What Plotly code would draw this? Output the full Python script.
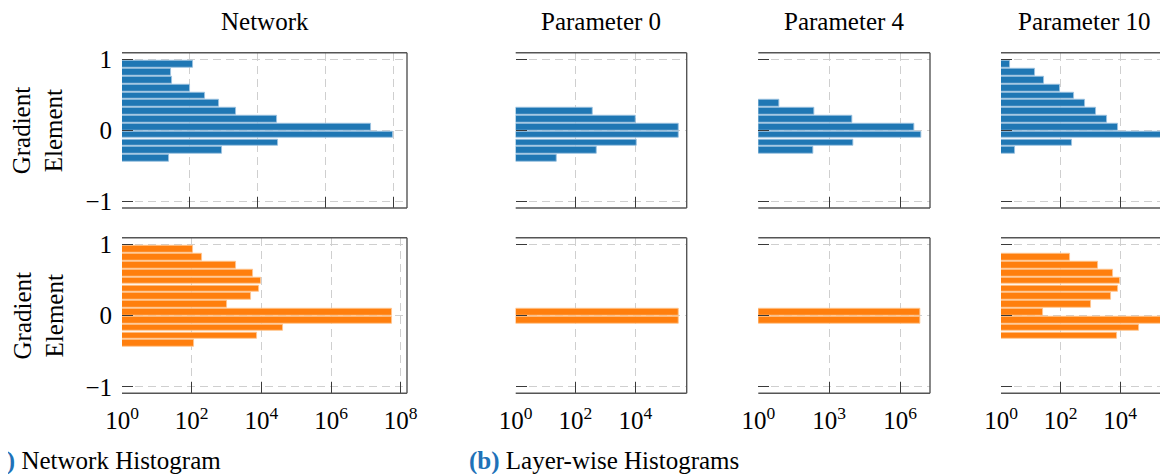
import plotly.graph_objects as go

# ---------------- data ----------------
bin_centers = [-0.392, -0.282, -0.172, -0.063, 0.047, 0.157, 0.267,
               0.377, 0.486, 0.596, 0.706, 0.816, 0.926]

# Network histogram (counts per bin, bottom to top)
net_top = [25, 900, 40000, 9.3e7, 2.19e7, 36600, 2330, 720, 284, 100, 30, 27, 123]
net_bot = [117, 7540, 41000, 5.6e7, 5.6e7, 1050, 5030, 8560, 10000, 5880, 1830, 203, 109]

# Layer-wise histograms
p0_top_bins = [-0.392, -0.282, -0.172, -0.063, 0.047, 0.157, 0.267]
p0_top = [24, 525, 11100, 283000, 275000, 10500, 365]
p0_bot_bins = [-0.063, 0.047]
p0_bot = [280000, 280000]

p4_top_bins = [-0.282, -0.172, -0.063, 0.047, 0.157, 0.267, 0.377]
p4_top = [221, 11000, 7.6e6, 3.95e6, 9300, 236, 7.8]
p4_bot_bins = [-0.063, 0.047]
p4_bot = [7.3e6, 7.3e6]

p10_top_bins = [-0.282, -0.172, -0.063, 0.047, 0.157, 0.267, 0.377,
                0.486, 0.596, 0.706, 0.816, 0.926]
p10_top = [3.0, 250, 2.87e5, 8550, 3740, 1520, 680, 277, 96, 27.9, 13.9, 1.95]
p10_bot_bins = [-0.282, -0.172, -0.063, 0.047, 0.157, 0.267, 0.377,
                0.486, 0.596, 0.706, 0.816]
p10_bot = [7600, 42000, 2.4e5, 25, 1050, 5000, 8300, 9970, 5660, 1810, 200]

titles = ["Network", "Parameter 0", "Parameter 4", "Parameter 10"]
y_ticks = [-1, 0, 1]
y_ticktext = ["\u22121", "0", "1"]
net_xticks = [1, 1e2, 1e4, 1e6, 1e8]
net_xtext = ["10<sup>0</sup>", "10<sup>2</sup>", "10<sup>4</sup>", "10<sup>6</sup>", "10<sup>8</sup>"]
p0_xticks = [1, 1e2, 1e4]
p0_xtext = ["10<sup>0</sup>", "10<sup>2</sup>", "10<sup>4</sup>"]
p4_xticks = [1, 1e3, 1e6]
p4_xtext = ["10<sup>0</sup>", "10<sup>3</sup>", "10<sup>6</sup>"]
ylabel = "Gradient<br>Element"
caption_a = "<b><span style='color:#1f72b8'>(a)</span></b> Network Histogram"
caption_b = "<b><span style='color:#1f72b8'>(b)</span></b> Layer-wise Histograms"

# ---------------- layout geometry (screen pixels) ----------------
PAGE_OFF = 8                       # default page margin around the plot div
W, H = 1168 - PAGE_OFF, 474 - PAGE_OFF
FONT = "Liberation Serif"
BLUE, ORANGE = "#1f77b4", "#ff7f0e"
cols_px = [(122, 407), (515.7, 686.7), (758.3, 930), (1001, 1168)]
rows_px = [(52.7, 208), (237.7, 393.3)]
xranges = [[(0, 8.39), (0, 8.18)], [(0, 5.72), (0, 5.72)],
           [(0, 7.27), (0, 7.27)], [(0, 5.61), (0, 5.61)]]
ticks = [(net_xticks, net_xtext), (p0_xticks, p0_xtext),
         (p4_xticks, p4_xtext), (p0_xticks, p0_xtext)]


def fx(px):
    return (px - PAGE_OFF) / W


def fy(py):
    return 1 - (py - PAGE_OFF) / H


series = [
    [(bin_centers, net_top), (bin_centers, net_bot)],
    [(p0_top_bins, p0_top), (p0_bot_bins, p0_bot)],
    [(p4_top_bins, p4_top), (p4_bot_bins, p4_bot)],
    [(p10_top_bins, p10_top), (p10_bot_bins, p10_bot)],
]

fig = go.Figure()
layout = dict(width=W, height=H, margin=dict(l=0, r=0, t=0, b=0, autoexpand=False),
              plot_bgcolor="white", paper_bgcolor="white",
              showlegend=False, bargap=0, font=dict(family=FONT, size=24, color="black"))
shapes = []
annotations = []

GRID = "#cfcfcf"
FRAME = "#555555"
TICKC = "#3a3a3a"

idx = 0
for c, (x0, x1) in enumerate(cols_px):
    for r, (y0, y1) in enumerate(rows_px):
        idx += 1
        xa = "xaxis" if idx == 1 else f"xaxis{idx}"
        ya = "yaxis" if idx == 1 else f"yaxis{idx}"
        xr = "x" if idx == 1 else f"x{idx}"
        yr = "y" if idx == 1 else f"y{idx}"
        ys, xs = series[c][r]
        color = BLUE if r == 0 else ORANGE
        edge = "#9cc3e0" if r == 0 else "#ffc58f"
        fig.add_trace(go.Bar(x=xs, y=ys, orientation="h", xaxis=xr, yaxis=yr,
                             width=0.094, marker=dict(color=color,
                             line=dict(color=edge, width=0.9))))
        tv, tt = ticks[c]
        xd = [max(0, fx(x0)), min(1, fx(x1))]
        yd = [fy(y1), fy(y0)]
        layout[xa] = dict(domain=xd, type="log", range=list(xranges[c][r]),
                          anchor=yr, tickvals=tv, ticktext=tt, ticks="inside", ticklen=11,
                          tickwidth=1.3, tickcolor=TICKC, showticklabels=(r == 1),
                          ticklabelstandoff=10,
                          showgrid=True, gridcolor=GRID, gridwidth=1.3, griddash="8px,5px",
                          showline=False, zeroline=False, automargin=False,
                          tickfont=dict(family=FONT, size=25, color="black"))
        layout[ya] = dict(domain=yd, range=[-1.09, 1.09], anchor=xr,
                          tickvals=y_ticks, ticktext=y_ticktext, ticks="inside", ticklen=11,
                          tickwidth=1.3, tickcolor=TICKC, showticklabels=(c == 0),
                          ticklabelstandoff=9,
                          showgrid=True, gridcolor=GRID, gridwidth=1.3, griddash="8px,5px",
                          showline=False, zeroline=False, automargin=False,
                          tickfont=dict(family=FONT, size=25, color="black"))
        # frame: top, bottom, right (left is just the dashed grid line)
        px0, px1 = xd
        py0, py1 = yd
        shapes.append(dict(type="line", xref="paper", yref="paper", x0=px0, x1=px1,
                           y0=py1, y1=py1, line=dict(color=FRAME, width=1.4), layer="above"))
        shapes.append(dict(type="line", xref="paper", yref="paper", x0=px0, x1=px1,
                           y0=py0, y1=py0, line=dict(color=FRAME, width=1.4), layer="above"))
        if c < 3:
            shapes.append(dict(type="line", xref="paper", yref="paper", x0=px1, x1=px1,
                               y0=py0, y1=py1, line=dict(color=FRAME, width=1.4), layer="above"))
    # column title
    annotations.append(dict(text=titles[c], xref="paper", yref="paper",
                            x=fx((x0 + x1) / 2), y=fy(21), showarrow=False,
                            xanchor="center", yanchor="middle",
                            font=dict(family=FONT, size=25, color="black")))

for (y0, y1) in rows_px:
    annotations.append(dict(text=ylabel, xref="paper", yref="paper", x=fx(38),
                            y=fy((y0 + y1) / 2), textangle=-90, showarrow=False,
                            xanchor="center", yanchor="middle",
                            font=dict(family=FONT, size=25, color="black")))

annotations.append(dict(text=caption_a, xref="paper", yref="paper", x=fx(-16), y=fy(461),
                        showarrow=False, xanchor="left", yanchor="middle",
                        font=dict(family=FONT, size=25, color="black")))
annotations.append(dict(text=caption_b, xref="paper", yref="paper", x=fx(467), y=fy(461),
                        showarrow=False, xanchor="left", yanchor="middle",
                        font=dict(family=FONT, size=25, color="black")))

layout["shapes"] = shapes
layout["annotations"] = annotations
fig.update_layout(**layout)
fig.write_html("out.html")
